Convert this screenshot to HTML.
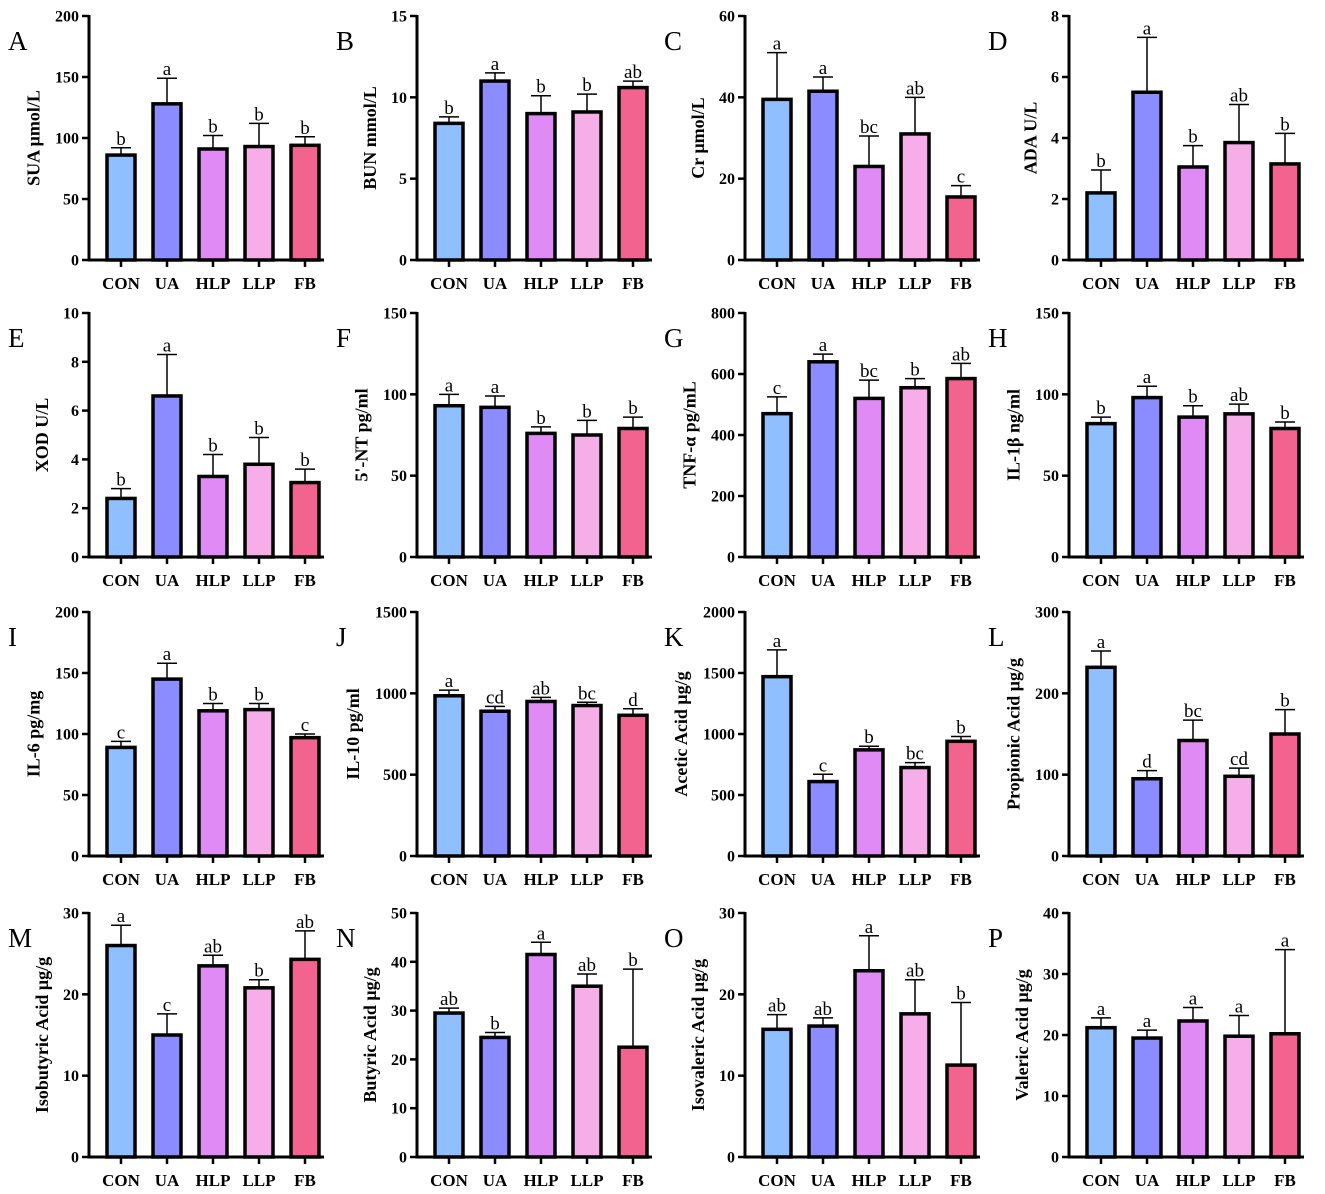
<!DOCTYPE html>
<html><head><meta charset="utf-8"><style>
html,body{margin:0;padding:0;background:#fff}
svg{display:block}
text{font-family:"Liberation Serif",serif;fill:#000}
</style></head><body>
<svg id="chart" width="1325" height="1194" viewBox="0 0 1325 1194" xmlns="http://www.w3.org/2000/svg"></svg>
<script>
const categories = ["CON","UA","HLP","LLP","FB"];
const colors = ["#8fbfff","#8a8cff","#e08af5","#f5aee8","#f2648f"];
const panelLetters = ["A","B","C","D","E","F","G","H","I","J","K","L","M","N","O","P"];
const yTitles = ["SUA \u03bcmol/L","BUN mmol/L","Cr \u03bcmol/L","ADA U/L","XOD U/L","5'-NT pg/ml","TNF-\u03b1 pg/mL","IL-1\u03b2 ng/ml","IL-6 pg/mg","IL-10 pg/ml","Acetic Acid \u03bcg/g","Propionic Acid \u03bcg/g","Isobutyric Acid \u03bcg/g","Butyric Acid \u03bcg/g","Isovaleric Acid \u03bcg/g","Valeric Acid \u03bcg/g"];
const yMax = [200,15,60,8,10,150,800,150,200,1500,2000,300,30,50,30,40];
const yStep = [50,5,20,2,2,50,200,50,50,500,500,100,10,10,10,10];
const means = [
 [86,128,91,93,94],[8.4,11.0,9.0,9.1,10.6],[39.5,41.5,23,31,15.5],[2.2,5.5,3.05,3.85,3.15],
 [2.4,6.6,3.3,3.8,3.05],[93,92,76,75,79],[470,640,520,555,585],[82,98,86,88,79],
 [89,145,119,120,97],[985,890,950,925,865],[1470,610,870,725,940],[232,95,142,98,150],
 [26,15,23.5,20.8,24.3],[29.5,24.5,41.5,35,22.5],[15.7,16.1,22.9,17.6,11.3],[21.2,19.5,22.3,19.8,20.2]];
const errors = [
 [6,21,11,19,7],[0.4,0.5,1.1,1.1,0.4],[11.5,3.5,7.5,9,2.8],[0.75,1.8,0.7,1.25,1.0],
 [0.4,1.7,0.9,1.1,0.55],[7,7,4,9,7],[55,25,60,30,50],[4,7,7,6,4],
 [5,13,6,5,3],[35,30,25,20,40],[220,60,30,40,40],[20,10,25,10,30],
 [2.5,2.6,1.3,1.0,3.5],[1,1,2.5,2.5,16],[1.8,1,4.3,4.2,7.7],[1.6,1.3,2.2,3.4,13.8]];
const letters = [
 ["b","a","b","b","b"],["b","a","b","b","ab"],["a","a","bc","ab","c"],["b","a","b","ab","b"],
 ["b","a","b","b","b"],["a","a","b","b","b"],["c","a","bc","b","ab"],["b","a","b","ab","b"],
 ["c","a","b","b","c"],["a","cd","ab","bc","d"],["a","c","b","bc","b"],["a","d","bc","cd","b"],
 ["a","c","ab","b","ab"],["ab","b","a","ab","b"],["ab","ab","a","ab","b"],["a","a","a","a","a"]];

const svg = document.getElementById('chart');
const NS = "http://www.w3.org/2000/svg";
function mk(tag, attrs, parent){const e=document.createElementNS(NS,tag);for(const k in attrs)e.setAttribute(k,attrs[k]);parent.appendChild(e);return e;}
const colX = [89,417,745,1069];
const rowTop = [16,313,612,913];
const plotH = 244, firstOff = 32, spacing = 46, barW = 28, axisLen = 235;

for(let p=0;p<16;p++){
  const ax = colX[p%4], top = rowTop[Math.floor(p/4)], bot = top+plotH;
  const g = mk('g',{},svg);
  
  
  const y = v => bot - v/yMax[p]*plotH;
  const x = i => ax + firstOff + i*spacing;
  const lt = mk('text',{x:ax-81,y:top+34,'font-size':27},g);
  lt.textContent = panelLetters[p];
  
  
  const digits = String(yMax[p]).length;
  const titleX = ax - 10 - digits*8.5 - 14;
  const yt = mk('text',{x:0,y:0,'font-size':18,'font-weight':'bold','text-anchor':'middle',transform:`translate(${titleX},${top+plotH/2}) rotate(-90)`},g);
  yt.textContent = yTitles[p];
  
  
  const yl = mk('line',{x1:ax,y1:top-1,x2:ax,y2:bot+1.5,stroke:'#000','stroke-width':3},g);
  
  
  for(let v=0; v<=yMax[p]+1e-9; v+=yStep[p]){
    mk('line',{x1:ax-7,y1:y(v),x2:ax,y2:y(v),stroke:'#000','stroke-width':2.5},g);
    const t = mk('text',{x:ax-10,y:y(v)+5.5,'font-size':16,'font-weight':'bold','text-anchor':'end'},g);
    t.textContent = String(v);
    
    
  }
  const xl = mk('line',{x1:ax-1.5,y1:bot,x2:ax+axisLen,y2:bot,stroke:'#000','stroke-width':3},g);
  
  
  for(let i=0;i<5;i++){
    const cx = x(i), v = means[p][i], e = errors[p][i];
    mk('line',{x1:cx,y1:bot,x2:cx,y2:bot+7,stroke:'#000','stroke-width':2.5},g);
    const ct = mk('text',{x:cx,y:bot+29,'font-size':17,'font-weight':'bold','text-anchor':'middle'},g);
    ct.textContent = categories[i];
    
    
    mk('line',{x1:cx,y1:y(v),x2:cx,y2:y(v+e),stroke:'#000','stroke-width':1.5},g);
    mk('line',{x1:cx-10,y1:y(v+e),x2:cx+10,y2:y(v+e),stroke:'#000','stroke-width':1.5},g);
    const b = mk('rect',{x:cx-barW/2,y:y(v),width:barW,height:bot-y(v),fill:colors[i],stroke:'#000','stroke-width':3.5},g);
    
    
    const s = mk('text',{x:cx,y:y(v+e)-3,'font-size':19,'text-anchor':'middle'},g);
    s.textContent = letters[p][i];
    
    
  }
}
</script>
</body></html>
